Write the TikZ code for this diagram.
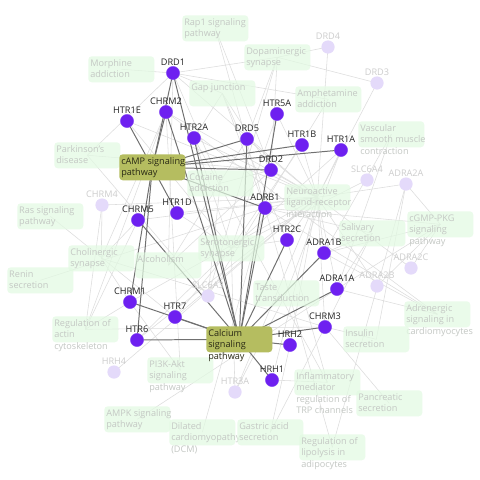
\documentclass[tikz,border=0pt]{standalone}
\usepackage{fontspec}
\setmainfont{Open Sans}
\usetikzlibrary{positioning}
\definecolor{genefill}{RGB}{110,32,240}
\definecolor{genedraw}{RGB}{130,70,245}
\definecolor{ghostfill}{RGB}{228,218,250}
\definecolor{labeltext}{RGB}{35,35,35}
\definecolor{ghosttext}{RGB}{205,205,205}
\definecolor{pwgreen}{RGB}{226,250,226}
\definecolor{pwtext}{RGB}{196,200,196}
\definecolor{hlfill}{RGB}{181,189,96}
\definecolor{hltext}{RGB}{40,40,20}
\definecolor{softline}{RGB}{221,221,221}
\definecolor{hardline}{RGB}{112,112,112}
\newcommand{\gfont}{\fontsize{6.5pt}{8.2pt}\selectfont}
\newcommand{\pwlines}[1]{\begin{tabular}[t]{@{}l@{}}#1\end{tabular}}
\pgfdeclarelayer{canvas}
\pgfdeclarelayer{back}
\pgfsetlayers{canvas,back,main}

\begin{document}
\begin{tikzpicture}[
    x=0.025cm, y=-0.025cm,
    gene/.style={circle, fill=genefill, draw=genedraw, line width=0.3pt, minimum size=0.33cm, inner sep=0pt},
    ghost/.style={gene, fill=ghostfill, draw=none},
    glabel/.style={font=\gfont, text=labeltext, inner sep=0pt, label distance=0.3pt},
    gxlabel/.style={glabel, text=ghosttext},
    pbox/.style={rounded corners=2.5pt, fill=pwgreen, fill opacity=0.7, minimum width=1.65cm, minimum height=0.65cm, inner sep=0pt, anchor=north west},
    hbox/.style={pbox, fill=hlfill, fill opacity=1},
    ptext/.style={font=\gfont, text=pwtext, inner sep=0pt, anchor=base west, xshift=1.4pt, yshift=-7.2pt},
    htext/.style={ptext, text=hltext},
    soft/.style={draw=softline, line width=0.4pt},
    hard/.style={draw=hardline, line width=0.7pt}
]
\begin{pgfonlayer}{canvas}
\fill[white] (0,0) rectangle (480,480);
\end{pgfonlayer}
\useasboundingbox (0,0) rectangle (480,480);

% pathways
\foreach \n/\x/\y/\txt in {
    rap1/182/15/{Rap1 signaling\\pathway},
    morph/88/56/{Morphine\\addiction},
    dopa/244/44/{Dopaminergic\\synapse},
    gap/189/80/{Gap junction},
    amph/295/86/{Amphetamine\\addiction},
    vasc/358/121/{Vascular\\smooth muscle\\contraction},
    park/54/142/{Parkinson's\\disease},
    coca/187/170/{Cocaine\\addiction},
    neuro/284/184/{Neuroactive\\ligand-receptor\\interaction},
    ras/17/203/{Ras signaling\\pathway},
    cgmp/407/211/{cGMP-PKG\\signaling\\pathway},
    saliv/339/220/{Salivary\\secretion},
    sero/198/235/{Serotonergic\\synapse},
    chol/68/245/{Cholinergic\\synapse},
    alco/135/252/{Alcoholism},
    renin/7/267/{Renin\\secretion},
    taste/253/280/{Taste\\transduction},
    actin/52/316/{Regulation of\\actin\\cytoskeleton},
    adren/404/301/{Adrenergic\\signaling in\\cardiomyocytes},
    insul/343/326/{Insulin\\secretion},
    pi3k/147/357/{PI3K-Akt\\signaling\\pathway},
    inflam/294/369/{Inflammatory\\mediator\\regulation of\\TRP channels},
    pancr/356/390/{Pancreatic\\secretion},
    ampk/104/406/{AMPK signaling\\pathway},
    dcm/169/419/{Dilated\\cardiomyopathy\\(DCM)},
    gastr/237/419/{Gastric acid\\secretion},
    lipo/299/434/{Regulation of\\lipolysis in\\adipocytes}}
{
    \node[pbox] (\n) at (\x,\y) {};
    \node[ptext] (\n-t) at (\n.north west) {\pwlines{\txt}};
}
\node[hbox] (camp) at (119,154) {};
\node[htext] (camp-t) at (camp.north west) {\pwlines{cAMP signaling\\pathway}};
\node[hbox] (calc) at (206,326) {};
\node[htext] (calc-t) at (calc.north west) {\pwlines{Calcium\\signaling\\pathway}};

% genes
\foreach \n/\x/\y/\l in {
    drd1/173/73/DRD1, chrm2/166/112/CHRM2, htr1e/127/121/HTR1E,
    htr2a/194/138/HTR2A, drd5/247/139/DRD5, htr5a/277/114/HTR5A,
    htr1b/302/145/HTR1B, htr1a/341/150/HTR1A, drd2/271/170/DRD2,
    adrb1/265/208/ADRB1, chrm5/138/220/CHRM5, htr1d/177/213/HTR1D,
    htr2c/287/240/HTR2C, adra1b/324/253/ADRA1B, adra1a/337/289/ADRA1A,
    chrm1/130/302/CHRM1, htr7/175/317/HTR7, htr6/137/340/HTR6,
    chrm3/325/327/CHRM3, hrh2/290/345/HRH2, hrh1/272/380/HRH1}
    \node[gene, label={[glabel]above:\l}] (\n) at (\x,\y) {};
\foreach \n/\x/\y/\l in {
    drd4/328/47/DRD4, drd3/377/83/DRD3, slc6a4/367/180/SLC6A4,
    adra2a/406/184/ADRA2A, adra2c/411/268/ADRA2C, adra2b/377/286/ADRA2B,
    chrm4/102/205/CHRM4, slc6a3/208/296/SLC6A3, hrh4/114/372/HRH4,
    htr3a/235/392/HTR3A}
    \node[ghost, label={[gxlabel]above:\l}] (\n) at (\x,\y) {};

\begin{pgfonlayer}{back}
% pathway members
\foreach \p/\g in {
    rap1/drd2, rap1/adrb1, morph/drd1,
    dopa/drd1, dopa/drd2, dopa/drd3, dopa/drd4, dopa/drd5, dopa/slc6a3,
    gap/drd1, gap/drd2, gap/htr2a, gap/htr2c, gap/adrb1,
    amph/drd1, amph/slc6a3, vasc/adra1a, vasc/adra1b,
    park/drd1, park/drd2, park/slc6a3, coca/drd1, coca/drd2, coca/slc6a3,
    neuro/drd1, neuro/drd2, neuro/drd3, neuro/drd4, neuro/drd5,
    neuro/htr1a, neuro/htr1b, neuro/htr1d, neuro/htr1e, neuro/htr2a,
    neuro/htr2c, neuro/htr5a, neuro/htr6, neuro/htr7, neuro/htr3a,
    neuro/chrm1, neuro/chrm2, neuro/chrm3, neuro/chrm4, neuro/chrm5,
    neuro/adrb1, neuro/adra1a, neuro/adra1b, neuro/adra2a, neuro/adra2b,
    neuro/adra2c, neuro/hrh1, neuro/hrh2, neuro/hrh4,
    ras/htr7,
    cgmp/adra1a, cgmp/adra1b, cgmp/adra2a, cgmp/adra2b, cgmp/adra2c, cgmp/adrb1,
    saliv/adra1a, saliv/adra1b, saliv/adrb1, saliv/chrm3,
    sero/htr1a, sero/htr1b, sero/htr1d, sero/htr1e, sero/htr2a, sero/htr2c,
    sero/htr3a, sero/htr5a, sero/htr6, sero/htr7, sero/slc6a4,
    chol/chrm1, chol/chrm2, chol/chrm3, chol/chrm4, chol/chrm5,
    alco/drd1, alco/drd2, alco/drd5, renin/adrb1, taste/htr3a, taste/htr1a,
    actin/chrm1, actin/chrm2, actin/chrm3, actin/chrm4, actin/chrm5,
    adren/adra1a, adren/adra1b, adren/adrb1, adren/chrm2,
    insul/chrm3, insul/adra2a, pi3k/chrm1, pi3k/chrm2,
    inflam/hrh1, inflam/htr2a, inflam/htr2c, pancr/chrm3, ampk/adra1a,
    dcm/adrb1, gastr/hrh2, gastr/chrm3, lipo/adrb1, lipo/adra2a}
    \draw[soft] (\p.center) -- (\g.center);
% highlighted pathways
\foreach \g in {drd1, chrm2, htr1e, drd5, htr1b, htr1a, drd2, adrb1, htr1d, chrm1, htr6}
    \draw[hard] (camp.center) -- (\g.center);
\foreach \g in {drd1, chrm2, htr2a, drd5, htr5a, adrb1, chrm5, htr2c, adra1b,
    adra1a, chrm3, hrh2, hrh1, htr7, htr6, chrm1}
    \draw[hard] (calc.center) -- (\g.center);
\end{pgfonlayer}
\end{tikzpicture}
\end{document}
